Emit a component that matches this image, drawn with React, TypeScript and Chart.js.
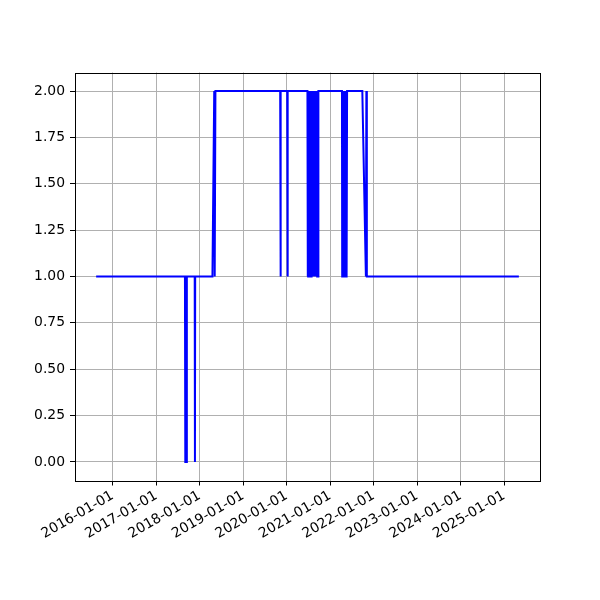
import React, { useEffect, useRef } from "react";
import { Chart, registerables } from "chart.js";

Chart.register(...registerables);

// Observation dates and values (step-like state series)
const dates: string[] = [
  "2015-08-15", "2017-08-30", "2017-09-02", "2017-09-12", "2017-09-15",
  "2017-11-20", "2017-11-22", "2017-11-24",
  "2018-04-18", "2018-05-03", "2018-05-07", "2018-05-13",
  "2019-11-08", "2019-11-10", "2019-11-14",
  "2020-01-06", "2020-01-08", "2020-01-12",
  // dense switching, mid 2020
  "2020-06-24", "2020-06-26", "2020-06-28", "2020-06-30",
  "2020-07-02", "2020-07-04", "2020-07-06", "2020-07-08", "2020-07-10", "2020-07-12",
  "2020-07-14", "2020-07-16", "2020-07-18", "2020-07-20", "2020-07-22", "2020-07-24",
  "2020-07-26", "2020-07-28", "2020-07-30",
  "2020-08-01", "2020-08-03", "2020-08-05", "2020-08-07", "2020-08-09", "2020-08-11",
  "2020-08-13", "2020-08-15", "2020-08-17", "2020-08-19", "2020-08-21", "2020-08-23",
  "2020-08-25", "2020-08-27", "2020-08-29", "2020-08-31",
  "2020-09-02", "2020-09-04", "2020-09-06", "2020-09-08", "2020-09-10", "2020-09-12",
  "2020-09-14", "2020-09-16", "2020-09-18", "2020-09-20", "2020-09-22", "2020-09-24",
  // dense switching, spring 2021
  "2021-04-10", "2021-04-12", "2021-04-14", "2021-04-16", "2021-04-18", "2021-04-20",
  "2021-04-22", "2021-04-24", "2021-04-26", "2021-04-28", "2021-04-30",
  "2021-05-02", "2021-05-04", "2021-05-06", "2021-05-08", "2021-05-10", "2021-05-12",
  "2021-05-14", "2021-05-16", "2021-05-18", "2021-05-20", "2021-05-22", "2021-05-23",
  "2021-09-28", "2021-10-28", "2021-11-01", "2021-11-05",
  "2025-05-05",
];

const values: number[] = [
  1, 1, 0, 0, 1,
  1, 0, 1,
  1, 2, 1, 2,
  2, 1, 2,
  2, 1, 2,
  2, 1, 2, 1,
  2, 1, 2, 1, 2, 1,
  2, 1, 2, 1, 2, 1,
  2, 1, 2,
  1, 2, 1, 2, 1, 2,
  1, 2, 1, 2, 1, 2,
  1, 2, 1, 2,
  1, 2, 1, 2, 1, 2,
  1, 2, 1, 2, 1, 2,
  2, 1, 2, 1, 2, 1,
  2, 1, 2, 1, 2,
  1, 2, 1, 2, 1, 2,
  1, 2, 1, 2, 1, 2,
  2, 1, 2, 1,
  1,
];

const xTickLabels: string[] = [
  "2016-01-01", "2017-01-01", "2018-01-01", "2019-01-01", "2020-01-01",
  "2021-01-01", "2022-01-01", "2023-01-01", "2024-01-01", "2025-01-01",
];

const yTickValues: number[] = [0, 0.25, 0.5, 0.75, 1.0, 1.25, 1.5, 1.75, 2.0];

const toMs = (s: string) => Date.parse(s + "T00:00:00Z");

const fmtDate = (ms: number) => {
  const d = new Date(ms);
  const y = d.getUTCFullYear();
  const m = String(d.getUTCMonth() + 1).padStart(2, "0");
  const dd = String(d.getUTCDate()).padStart(2, "0");
  return `${y}-${m}-${dd}`;
};

const FONT = { family: "'DejaVu Sans', sans-serif", size: 13.9 };

export default function App() {
  const ref = useRef<HTMLCanvasElement | null>(null);

  useEffect(() => {
    if (!ref.current) return;
    const pts = dates.map((d, i) => ({ x: toMs(d), y: values[i] }));
    const xs = pts.map((p) => p.x);
    const xMinD = Math.min(...xs);
    const xMaxD = Math.max(...xs);
    const span = xMaxD - xMinD;
    const ys = values;
    const yMinD = Math.min(...ys);
    const yMaxD = Math.max(...ys);
    const ySpan = yMaxD - yMinD;

    const framePlugin = {
      id: "frame",
      afterDraw(chart: any) {
        const { ctx, chartArea } = chart;
        ctx.save();
        ctx.strokeStyle = "#000";
        ctx.lineWidth = 1;
        ctx.strokeRect(
          Math.round(chartArea.left) + 0.5,
          Math.round(chartArea.top) + 0.5,
          Math.round(chartArea.right - chartArea.left),
          Math.round(chartArea.bottom - chartArea.top)
        );
        ctx.restore();
      },
    };

    const chart = new Chart(ref.current, {
      type: "line",
      data: {
        datasets: [
          {
            data: pts,
            borderColor: "#0000ff",
            borderWidth: 2,
            pointRadius: 0,
            tension: 0,
            fill: false,
          },
        ],
      },
      options: {
        animation: false,
        responsive: false,
        layout: { padding: { left: 0, top: 72.5, right: 60, bottom: 0 } },
        plugins: {
          legend: { display: false },
          tooltip: { enabled: false },
        },
        scales: {
          x: {
            type: "linear",
            min: xMinD - span * 0.05,
            max: xMaxD + span * 0.05,
            afterBuildTicks: (scale: any) => {
              scale.ticks = xTickLabels.map((l) => ({ value: toMs(l) }));
            },
            afterFit: (scale: any) => {
              scale.height = 119.5;
            },
            ticks: {
              autoSkip: false,
              minRotation: 30,
              maxRotation: 30,
              color: "#000",
              font: FONT,
              padding: 2,
              callback: (v: any) => fmtDate(Number(v)),
            },
            grid: {
              color: "#b0b0b0",
              lineWidth: 1,
              tickColor: "#000",
              tickLength: 5,
            },
            border: { display: false },
          },
          y: {
            type: "linear",
            min: yMinD - ySpan * 0.05,
            max: yMaxD + ySpan * 0.05,
            afterBuildTicks: (scale: any) => {
              scale.ticks = yTickValues.map((v) => ({ value: v }));
            },
            afterFit: (scale: any) => {
              scale.width = 75;
            },
            ticks: {
              color: "#000",
              font: FONT,
              padding: 5,
              callback: (v: any) => Number(v).toFixed(2),
            },
            grid: {
              color: "#b0b0b0",
              lineWidth: 1,
              tickColor: "#000",
              tickLength: 5,
            },
            border: { display: false },
          },
        },
      },
      plugins: [framePlugin],
    } as any);

    return () => chart.destroy();
  }, []);

  return (
    <div style={{ position: "absolute", left: 0, top: 0, width: 600, height: 600, background: "#fff" }}>
      <canvas ref={ref} width={600} height={600} />
    </div>
  );
}
